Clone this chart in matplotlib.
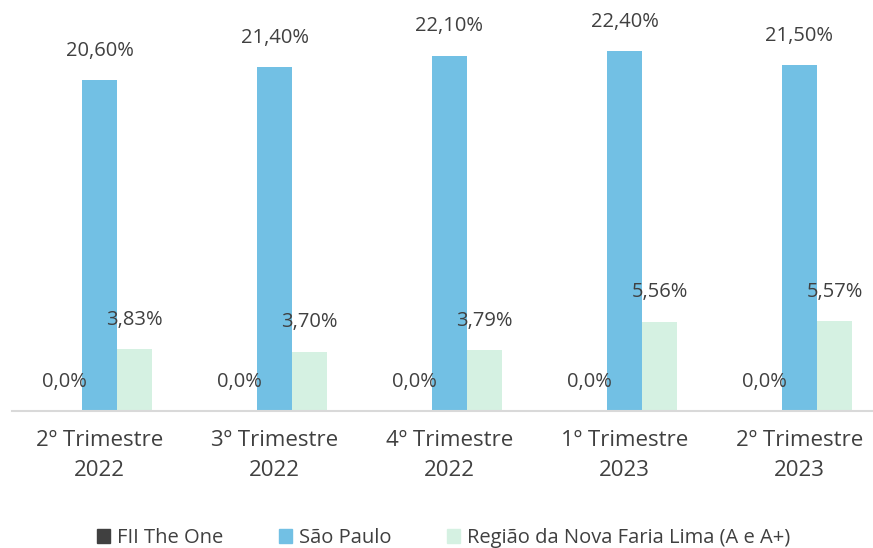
import numpy as np
import matplotlib.pyplot as plt
from matplotlib.patches import Patch

categories = ['2º Trimestre\n2022', '3º Trimestre\n2022', '4º Trimestre\n2022',
              '1º Trimestre\n2023', '2º Trimestre\n2023']
fii_the_one = [0.0, 0.0, 0.0, 0.0, 0.0]
sao_paulo = [20.60, 21.40, 22.10, 22.40, 21.50]
nova_faria_lima = [3.83, 3.70, 3.79, 5.56, 5.57]

fii_labels = ['0,0%'] * 5
sp_labels = ['20,60%', '21,40%', '22,10%', '22,40%', '21,50%']
nfl_labels = ['3,83%', '3,70%', '3,79%', '5,56%', '5,57%']

c_fii = '#404040'
c_sp = '#72C0E4'
c_nfl = '#D5F1E2'
txt = '#404040'

plt.rcParams['font.family'] = ['Open Sans', 'DejaVu Sans']

fig = plt.figure(figsize=(8.73, 5.48), dpi=100)
ax = fig.add_axes([12 / 873, 137 / 548, 875 / 873, 402 / 548])

x = np.arange(len(categories))
w = 0.2
ax.bar(x - w, fii_the_one, w, color=c_fii)
ax.bar(x, sao_paulo, w, color=c_sp)
ax.bar(x + w, nova_faria_lima, w, color=c_nfl)

fs = 14.5
off = 21
for i in range(len(x)):
    ax.annotate(fii_labels[i], (x[i] - w, fii_the_one[i]), xytext=(0, off),
                textcoords='offset points', ha='center', va='center',
                fontsize=fs, color=txt)
    ax.annotate(sp_labels[i], (x[i], sao_paulo[i]), xytext=(0, off),
                textcoords='offset points', ha='center', va='center',
                fontsize=fs, color=txt)
    ax.annotate(nfl_labels[i], (x[i] + w, nova_faria_lima[i]), xytext=(0, off),
                textcoords='offset points', ha='center', va='center',
                fontsize=fs, color=txt)

ax.set_xlim(-0.5, 4.5)
ax.set_ylim(0, 25)
ax.set_xticks(x)
ax.set_xticklabels(categories, fontsize=16, color=txt, linespacing=1.6)
ax.tick_params(axis='x', length=0, pad=13.5)
ax.set_yticks([])
for s in ['top', 'right', 'left']:
    ax.spines[s].set_visible(False)
ax.spines['bottom'].set_color('#D9D9D9')
ax.spines['bottom'].set_linewidth(1.5)

handles = [Patch(color=c_fii, label='FII The One'),
           Patch(color=c_sp, label='São Paulo'),
           Patch(color=c_nfl, label='Região da Nova Faria Lima (A e A+)')]
leg = fig.legend(handles=handles, loc='center', bbox_to_anchor=(0.508, 10 / 548),
                 ncol=3, frameon=False, fontsize=14.5, handlelength=0.65,
                 handleheight=0.65, handletextpad=0.35, columnspacing=2.75)
for t in leg.get_texts():
    t.set_color(txt)

fig.savefig('out.png', dpi=100)
